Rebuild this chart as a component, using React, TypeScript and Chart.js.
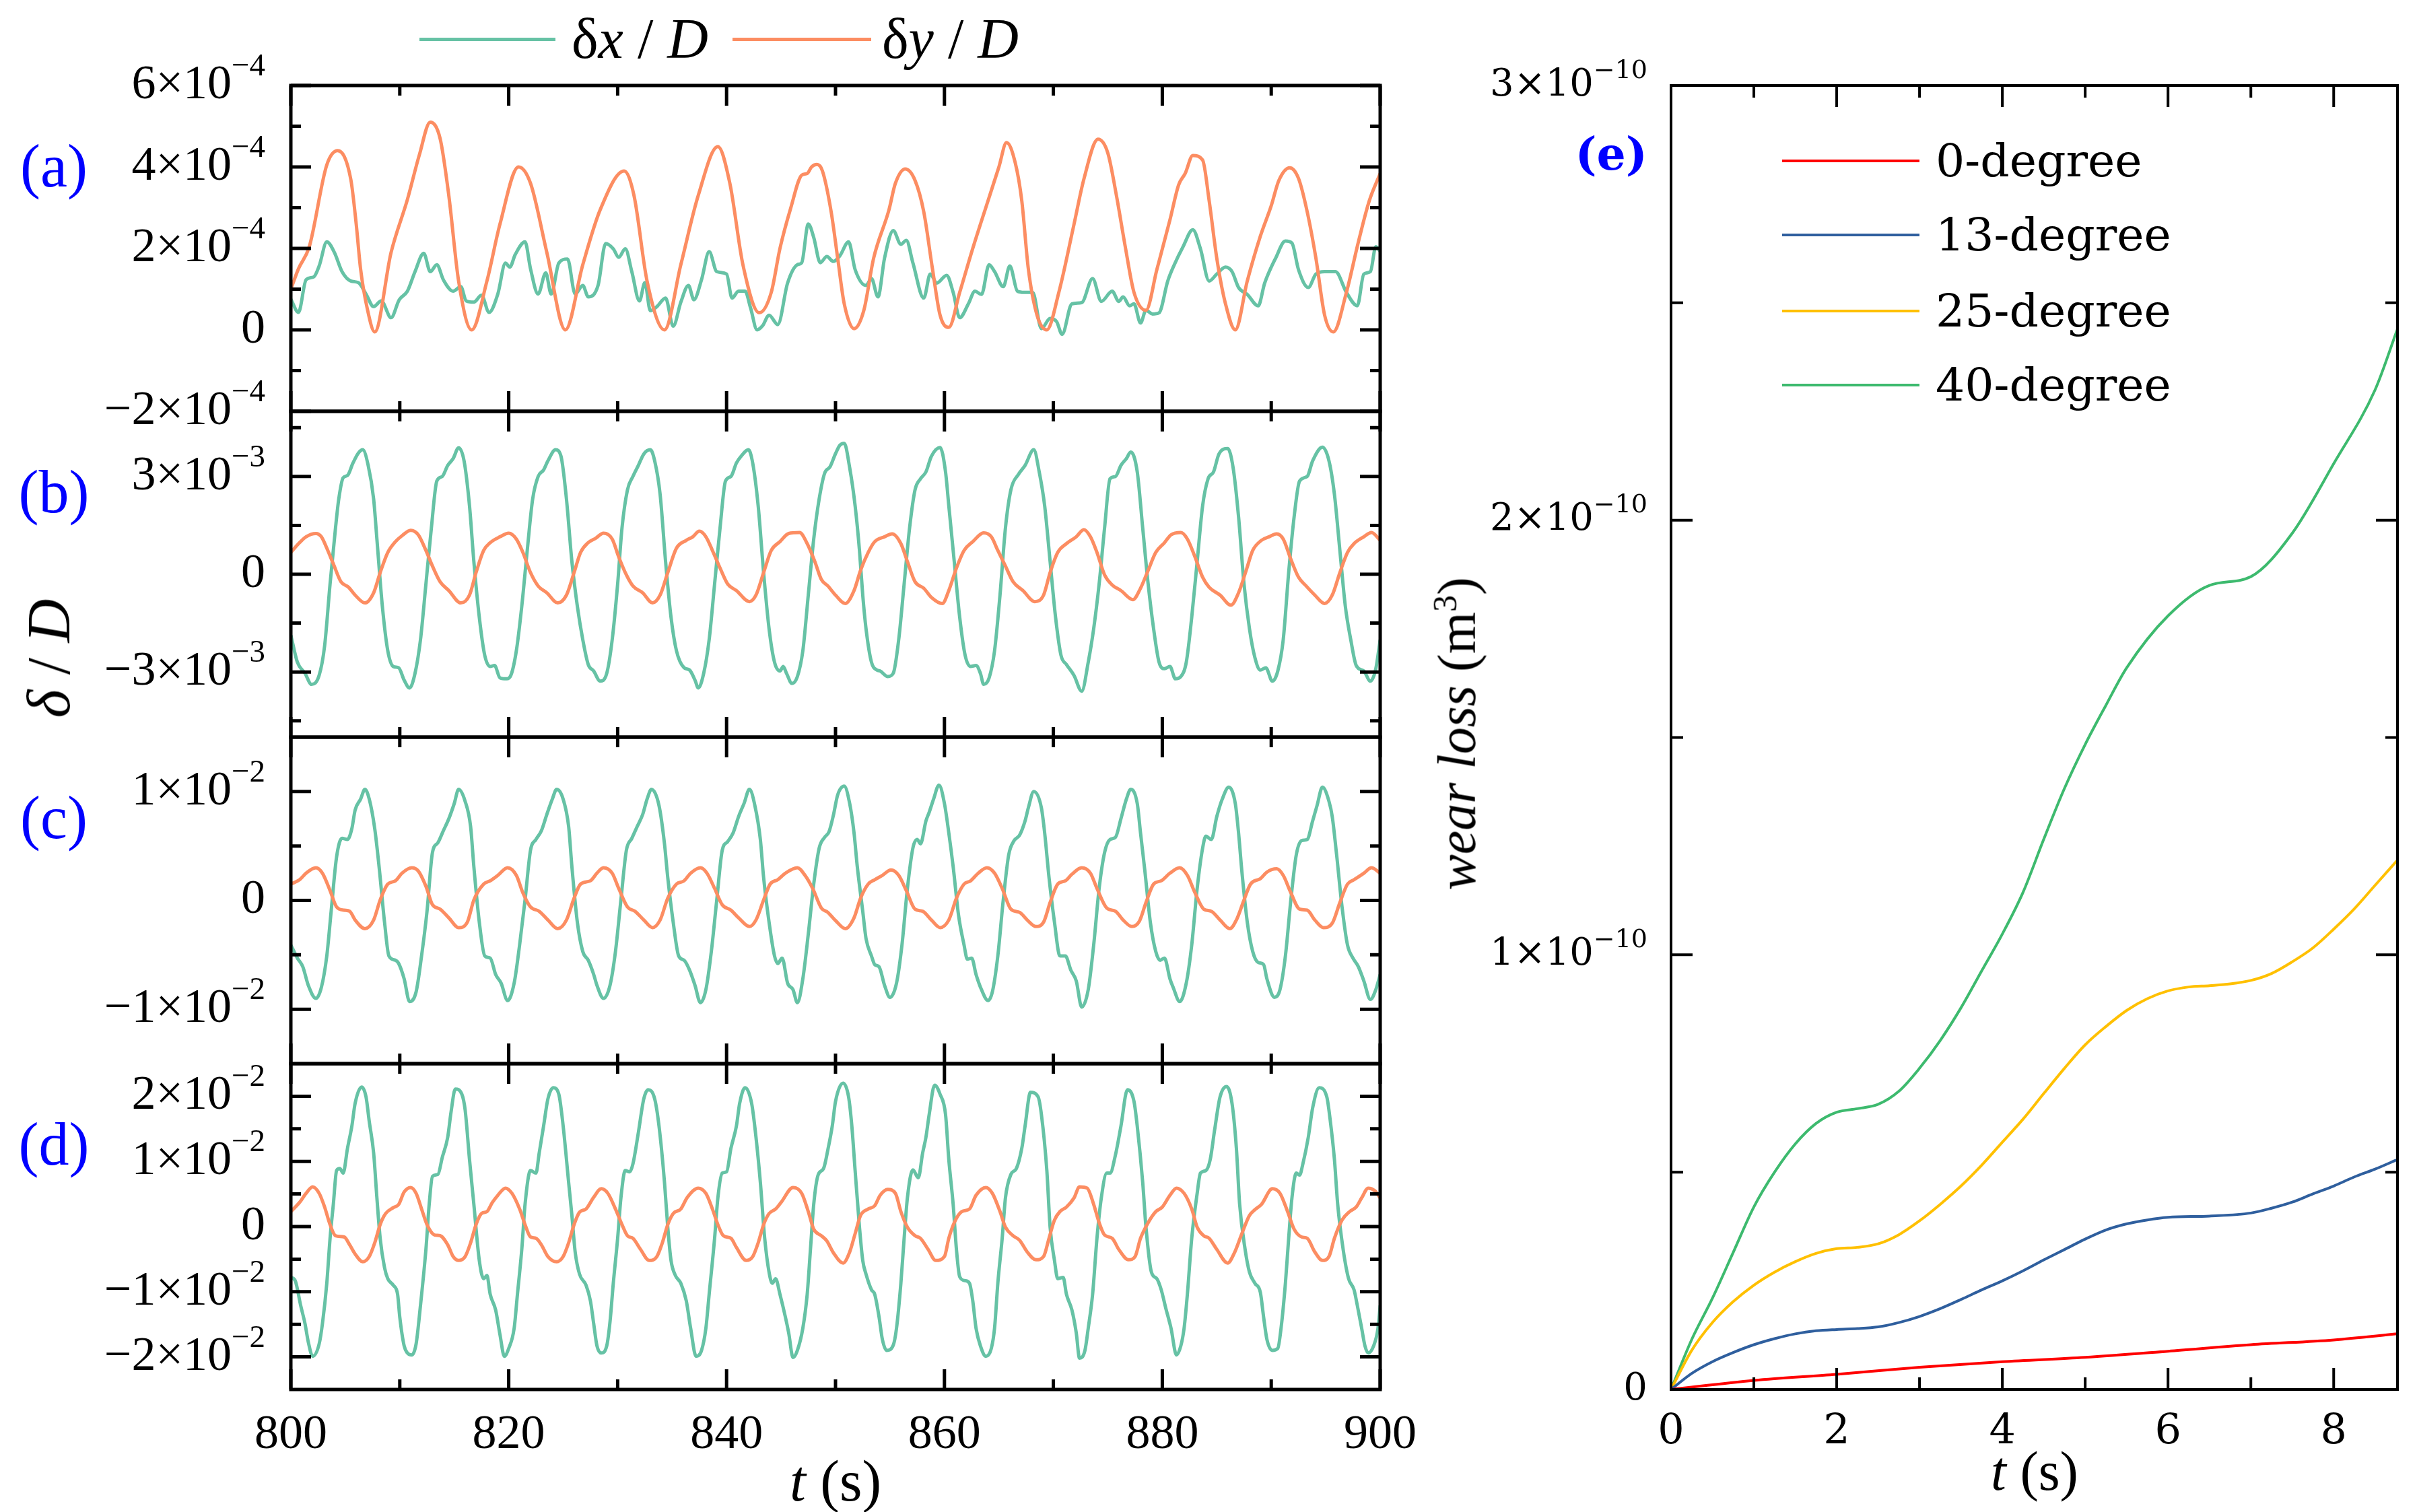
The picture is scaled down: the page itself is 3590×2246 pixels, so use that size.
import { useEffect, useRef } from "react";
import Chart from "chart.js/auto";

// ---------- panels (a)-(d): [t (s), value] ----------
// (a) values in units of 1e-4, (b)-(d) in units of 1e-3
const A_UNIT = 1e-4;
const BCD_UNIT = 1e-3;

const dxA: [number, number][] = [
  [800, 0.75], [800.7, 0.43], [801.4, 1.23], [802.1, 1.3], [802.6, 1.57], [803.3, 2.16], [804.0, 1.9], [804.7, 1.43],
  [805.5, 1.2], [806.2, 1.16], [806.9, 0.88], [807.6, 0.57], [808.3, 0.71], [809.2, 0.3], [809.95, 0.74], [810.7, 0.95],
  [811.4, 1.43], [812.2, 1.88], [812.8, 1.43], [813.4, 1.6], [814.0, 1.23], [814.9, 0.95], [815.6, 1.06], [816.1, 0.71],
  [816.8, 0.68], [817.5, 0.85], [818.2, 0.43], [819.0, 0.88], [819.7, 1.64], [820.1, 1.54], [820.6, 1.85], [821.5, 2.16],
  [822.0, 1.5], [822.7, 0.88], [823.4, 1.4], [823.9, 0.88], [824.6, 1.64], [825.4, 1.74], [826.1, 0.88], [826.8, 1.09],
  [827.3, 0.81], [828.2, 1.09], [828.9, 2.12], [829.6, 1.99], [830.1, 1.78], [830.7, 1.99], [831.3, 1.43], [832.0, 0.71],
  [832.5, 1.16], [833.0, 0.47], [833.6, 0.57], [834.4, 0.78], [835.1, 0.09], [835.8, 0.68], [836.5, 1.09], [837.0, 0.74],
  [837.7, 1.23], [838.4, 1.92], [839.1, 1.43], [840.0, 1.37], [840.5, 0.78], [841.1, 0.95], [841.7, 0.95], [842.2, 0.54],
  [842.8, 0], [843.3, 0.1], [843.9, 0.36], [844.7, 0.13], [845.6, 1.15], [846.5, 1.6], [846.9, 1.65], [847.5, 2.6],
  [848.0, 2.27], [848.6, 1.65], [849.2, 1.8], [849.8, 1.68], [850.4, 1.82], [851.2, 2.16], [851.8, 1.48], [852.8, 1.09],
  [853.3, 1.26], [853.9, 0.81], [854.5, 1.76], [855.3, 2.44], [856.0, 2.1], [856.5, 2.2], [857.1, 1.65], [858.1, 0.78],
  [858.7, 1.37], [859.3, 1.15], [860.2, 1.34], [860.8, 0.92], [861.4, 0.3], [862.2, 0.64], [862.8, 0.95], [863.4, 0.87],
  [864.1, 1.6], [864.6, 1.43], [865.4, 1.06], [866.0, 1.57], [866.7, 0.95], [867.3, 0.92], [868.1, 0.92], [868.9, 0.03],
  [869.7, 0.28], [870.3, 0.2], [870.8, -0.11], [871.7, 0.64], [872.6, 0.67], [873.6, 1.26], [874.4, 0.7], [875.4, 0.95],
  [876.0, 0.7], [876.4, 0.81], [877.0, 0.59], [877.4, 0.64], [878.0, 0.17], [878.5, 0.48], [879.1, 0.39], [879.7, 0.42],
  [880.5, 1.2], [881.1, 1.6], [881.9, 2.04], [882.8, 2.46], [883.5, 1.99], [884.3, 1.2], [885.0, 1.37], [885.8, 1.54],
  [886.4, 1.43], [887.0, 1.04], [887.8, 0.87], [888.8, 0.59], [889.4, 1.15], [890.4, 1.76], [891.3, 2.18], [891.9, 2.13],
  [892.5, 1.48], [893.4, 1.04], [894.1, 1.37], [894.9, 1.43], [895.9, 1.43], [896.9, 0.92], [897.9, 0.59], [898.5, 1.37],
  [899.1, 1.43], [899.6, 2.04], [900, 1.93],
];

const dyA: [number, number][] = [
  [800, 1.0], [800.7, 1.5], [801.7, 2.05], [803.3, 4.05], [804.3, 4.4], [805.5, 3.7], [806.0, 2.6], [806.4, 1.5],
  [807.0, 0.54], [807.7, -0.05], [809.2, 1.9], [810.7, 3.2], [811.8, 4.3], [812.8, 5.1], [813.7, 4.7], [814.5, 3.3],
  [815.4, 1.2], [816.6, 0], [818.0, 1.2], [819.2, 2.6], [820.9, 4.0], [822.0, 3.6], [823.5, 1.9], [825.2, 0],
  [826.8, 1.6], [828.4, 2.95], [830.6, 3.9], [831.5, 3.3], [832.7, 1.2], [834.3, 0], [835.8, 1.6], [837.4, 3.3],
  [839.2, 4.5], [840.3, 3.6], [841.5, 1.6], [843.0, 0.42], [844.1, 0.92], [844.9, 2.0], [845.9, 3.0], [846.9, 3.8],
  [847.4, 3.84], [847.8, 4.0], [848.3, 4.06], [848.8, 3.9], [849.6, 2.9], [850.2, 1.76], [850.8, 0.64], [851.7, 0.03],
  [852.6, 0.48], [853.5, 1.76], [854.9, 2.94], [855.5, 3.6], [856.4, 3.95], [857.3, 3.67], [858.1, 2.9], [858.9, 1.5],
  [859.6, 0.36], [860.4, 0.06], [861.4, 0.92], [862.6, 2.0], [864.0, 3.17], [865.0, 4.0], [865.7, 4.6], [866.5, 4.1],
  [867.1, 3.17], [867.7, 1.5], [868.5, 0.36], [869.4, 0], [870.5, 0.92], [871.9, 2.6], [872.8, 3.7], [874.1, 4.68],
  [875.0, 4.34], [875.8, 3.28], [876.6, 2.04], [877.4, 0.92], [878.5, 0.48], [879.5, 1.48], [880.7, 2.7], [881.5, 3.56],
  [882.1, 3.84], [882.8, 4.28], [883.7, 4.17], [884.3, 3.17], [885.0, 1.76], [885.8, 0.64], [886.7, 0], [887.8, 1.2],
  [889.0, 2.3], [890.0, 3.05], [890.7, 3.67], [891.7, 3.98], [892.5, 3.72], [893.3, 2.9], [894.1, 1.76], [894.9, 0.36],
  [895.7, -0.05], [896.9, 0.92], [898.0, 2.16], [899.0, 3.17], [900, 3.84],
];

const dxB: [number, number][] = [
  [800, -1.87], [800.6, -2.7], [801.3, -3.04], [801.9, -3.38], [802.6, -3.1], [803.1, -2.2], [803.6, -0.3], [804.1, 1.42],
  [804.4, 2.31], [804.8, 2.96], [805.2, 3.03], [805.7, 3.41], [806.2, 3.72], [806.6, 3.82], [807.1, 3.34], [807.6, 2.31],
  [807.9, 1.08], [808.4, -0.98], [808.9, -2.35], [809.4, -2.83], [809.9, -2.87], [810.4, -3.25], [810.9, -3.49], [811.4, -3.04],
  [811.9, -2.01], [812.4, -0.3], [812.9, 1.42], [813.4, 2.86], [813.9, 3.0], [814.4, 3.34], [814.9, 3.55], [815.4, 3.88],
  [815.9, 3.48], [816.4, 2.1], [816.8, 0.39], [817.3, -1.32], [817.8, -2.49], [818.3, -2.83], [818.7, -2.8], [819.2, -3.18],
  [819.8, -3.21], [820.2, -3.1], [820.7, -2.35], [821.2, -0.98], [821.7, 0.73], [822.2, 2.31], [822.7, 3.0], [823.2, 3.2],
  [823.6, 3.48], [824.3, 3.82], [824.8, 3.62], [825.3, 2.31], [825.8, 0.39], [826.3, -0.98], [826.8, -2.01], [827.3, -2.77],
  [827.8, -2.97], [828.4, -3.28], [829.0, -3.04], [829.5, -2.01], [830.0, -0.3], [830.4, 1.42], [830.9, 2.59], [831.4, 3.0],
  [831.9, 3.34], [832.4, 3.69], [833.0, 3.82], [833.4, 3.48], [833.9, 2.45], [834.4, 0.39], [834.9, -1.32], [835.4, -2.35],
  [836.1, -2.87], [836.6, -2.94], [837.1, -3.25], [837.4, -3.49], [837.9, -3.04], [838.4, -2.01], [838.9, -0.3], [839.4, 1.42],
  [839.9, 2.86], [840.4, 3.0], [840.9, 3.41], [841.4, 3.65], [842.0, 3.82], [842.4, 3.41], [842.9, 2.1], [843.4, 0.05],
  [843.9, -1.67], [844.4, -2.7], [844.9, -2.97], [845.2, -2.83], [845.5, -3.04], [846.0, -3.35], [846.5, -3.14], [847.0, -2.35],
  [847.5, -0.64], [848.0, 1.08], [848.5, 2.31], [849.0, 3.1], [849.5, 3.3], [850.0, 3.7], [850.4, 3.96], [850.8, 4.02],
  [851.3, 3.27], [851.8, 2.1], [852.2, 0.73], [852.5, -0.64], [852.8, -1.67], [853.3, -2.7], [853.8, -2.94], [854.1, -2.97],
  [854.8, -3.14], [855.3, -3.04], [855.8, -2.01], [856.3, -0.3], [856.8, 1.42], [857.3, 2.59], [857.8, 2.93], [858.3, 3.14],
  [858.8, 3.62], [859.6, 3.89], [860.1, 3.14], [860.4, 2.1], [860.9, 0.39], [861.4, -1.32], [861.9, -2.49], [862.4, -2.83],
  [862.9, -2.8], [863.3, -3.04], [863.6, -3.38], [864.1, -3.18], [864.6, -2.35], [865.1, -0.64], [865.6, 1.42], [866.1, 2.59],
  [866.8, 3.07], [867.4, 3.34], [868.2, 3.82], [868.7, 3.14], [869.2, 2.1], [869.7, 0.39], [870.2, -1.32], [870.7, -2.49],
  [871.2, -2.77], [871.9, -3.11], [872.6, -3.59], [873.2, -2.7], [873.7, -1.67], [874.2, -0.3], [874.7, 1.42], [875.2, 2.93],
  [875.7, 3.0], [876.2, 3.34], [876.7, 3.55], [877.1, 3.75], [877.7, 3.14], [878.2, 1.42], [878.7, -0.3], [879.2, -1.67],
  [879.7, -2.7], [880.2, -2.9], [880.7, -2.83], [881.2, -3.21], [881.7, -3.14], [882.2, -2.7], [882.7, -1.32], [883.2, 0.39],
  [883.7, 2.1], [884.2, 2.93], [884.7, 3.14], [885.2, 3.69], [886.0, 3.86], [886.5, 3.27], [887.0, 1.76], [887.5, -0.3],
  [888.0, -1.67], [888.5, -2.56], [889.0, -2.94], [889.5, -2.87], [890.1, -3.28], [890.6, -2.97], [891.1, -2.01], [891.6, 0.05],
  [892.1, 1.76], [892.6, 2.86], [893.3, 3.0], [893.8, 3.48], [894.7, 3.9], [895.3, 3.48], [895.8, 2.45], [896.3, 0.73],
  [896.8, -0.98], [897.3, -2.01], [897.8, -2.8], [898.5, -2.97], [899.1, -3.28], [899.6, -2.9], [900, -2.01],
];

const dyB: [number, number][] = [
  [800, 0.67], [800.8, 0.97], [801.4, 1.15], [802.3, 1.25], [802.8, 1.15], [803.3, 0.8], [803.9, 0.32], [804.6, -0.23],
  [805.3, -0.4], [805.9, -0.64], [806.8, -0.88], [807.6, -0.57], [808.2, 0.05], [808.9, 0.67], [809.6, 1.0], [810.2, 1.18],
  [811.0, 1.35], [811.7, 1.21], [812.4, 0.73], [813.0, 0.25], [813.7, -0.23], [814.5, -0.5], [815.6, -0.88], [816.4, -0.64],
  [817.0, 0.05], [817.7, 0.73], [818.3, 0.97], [819.2, 1.15], [820.0, 1.26], [820.7, 1.08], [821.3, 0.67], [822.0, 0.05],
  [822.7, -0.36], [823.5, -0.57], [824.5, -0.88], [825.3, -0.64], [826.0, 0.05], [826.6, 0.67], [827.3, 0.97], [828.0, 1.11],
  [828.7, 1.26], [829.5, 1.08], [830.1, 0.53], [830.8, -0.02], [831.4, -0.36], [832.3, -0.57], [833.2, -0.88], [833.9, -0.64],
  [834.6, 0.05], [835.4, 0.8], [836.3, 1.04], [836.9, 1.15], [837.5, 1.32], [838.1, 1.15], [838.7, 0.73], [839.4, 0.19],
  [840.1, -0.3], [840.9, -0.5], [842.1, -0.84], [842.7, -0.64], [843.4, 0.05], [844.1, 0.73], [844.9, 1.0], [845.7, 1.25],
  [846.7, 1.28], [847.4, 0.94], [848.1, 0.39], [848.7, -0.16], [849.3, -0.36], [850.0, -0.64], [850.9, -0.9], [851.7, -0.5],
  [852.3, 0.12], [853.0, 0.67], [853.6, 1.0], [854.5, 1.15], [855.2, 1.24], [856.0, 0.94], [856.6, 0.39], [857.3, -0.23],
  [858.1, -0.43], [858.8, -0.71], [859.8, -0.9], [860.4, -0.5], [861.1, 0.19], [861.8, 0.73], [862.6, 1.0], [863.6, 1.27],
  [864.3, 1.15], [864.9, 0.73], [865.6, 0.25], [866.3, -0.23], [867.2, -0.5], [868.3, -0.84], [869.1, -0.64], [869.7, 0.05],
  [870.4, 0.67], [871.2, 0.94], [872.1, 1.15], [872.8, 1.37], [873.4, 1.15], [874.0, 0.67], [874.7, -0.02], [875.4, -0.33],
  [876.2, -0.5], [877.3, -0.78], [878.0, -0.43], [878.7, 0.12], [879.4, 0.67], [880.2, 0.97], [880.8, 1.21], [881.7, 1.28],
  [882.3, 1.08], [883.0, 0.53], [883.7, -0.09], [884.3, -0.4], [885.3, -0.64], [886.3, -0.95], [887.0, -0.57], [887.7, 0.12],
  [888.3, 0.73], [889.1, 1.04], [889.8, 1.15], [890.5, 1.24], [891.1, 1.08], [891.8, 0.46], [892.5, -0.09], [893.2, -0.36],
  [894.0, -0.64], [894.9, -0.9], [895.6, -0.64], [896.3, 0.05], [897.0, 0.67], [897.6, 0.94], [898.5, 1.15], [899.2, 1.28],
  [900, 1.04],
];

const dxC: [number, number][] = [
  [800, -4.1], [800.6, -5.3], [801.1, -6.1], [801.6, -7.8], [802.3, -9.0], [802.8, -8.0], [803.3, -5.1], [803.7, -1.0],
  [804.2, 4.0], [804.7, 5.7], [805.2, 5.6], [805.6, 6.6], [805.9, 8.3], [806.4, 9.3], [806.8, 10.2], [807.2, 9.3],
  [807.7, 6.6], [808.1, 3.1], [808.6, -2.0], [809.0, -5.1], [809.6, -5.5], [809.9, -5.8], [810.4, -7.2], [810.9, -9.3],
  [811.5, -8.4], [812.0, -5.1], [812.5, -1.0], [813.0, 4.4], [813.5, 5.3], [814.0, 6.4], [814.5, 7.5], [815.0, 8.9],
  [815.4, 10.2], [816.0, 9.1], [816.5, 6.8], [816.8, 3.1], [817.3, -2.0], [817.8, -5.1], [818.3, -5.3], [818.8, -6.8],
  [819.3, -7.6], [819.9, -9.2], [820.5, -7.6], [821.0, -4.1], [821.5, 0.04], [822.0, 4.6], [822.5, 5.6], [823.0, 6.4],
  [823.5, 7.9], [824.0, 9.3], [824.4, 10.2], [825.0, 9.3], [825.5, 6.8], [825.8, 3.1], [826.3, -2.0], [826.8, -4.7],
  [827.3, -5.5], [827.8, -6.8], [828.1, -7.8], [828.7, -9.0], [829.3, -7.8], [829.8, -4.7], [830.3, 0.04], [830.8, 4.6],
  [831.3, 5.7], [831.8, 6.8], [832.3, 7.9], [832.7, 9.3], [833.1, 10.2], [833.8, 8.7], [834.3, 5.2], [834.6, 2.1],
  [835.1, -2.0], [835.6, -5.1], [836.1, -5.5], [836.6, -6.4], [837.1, -7.8], [837.6, -9.4], [838.1, -8.2], [838.6, -4.7],
  [839.1, 0.04], [839.6, 4.6], [840.1, 5.4], [840.6, 6.2], [841.1, 7.7], [841.6, 8.9], [842.1, 10.2], [842.6, 8.7],
  [843.1, 5.6], [843.4, 2.1], [843.9, -2.0], [844.4, -5.1], [844.7, -5.8], [845.1, -5.3], [845.6, -7.6], [846.1, -8.2],
  [846.5, -9.4], [847.0, -7.2], [847.5, -3.1], [848.0, 1.5], [848.5, 4.8], [849.0, 5.8], [849.4, 6.3], [849.8, 7.8],
  [850.2, 9.7], [850.8, 10.5], [851.3, 8.9], [851.7, 6.2], [852.0, 3.1], [852.5, -1.0], [852.8, -3.5], [853.3, -5.1],
  [853.6, -5.9], [854.0, -6.1], [854.5, -7.8], [855.0, -8.9], [855.6, -7.6], [856.1, -4.1], [856.6, 1.1], [857.1, 4.8],
  [857.5, 5.6], [857.8, 5.2], [858.3, 7.3], [858.6, 8.1], [859.0, 9.3], [859.5, 10.6], [860.0, 8.9], [860.4, 6.2],
  [860.8, 3.1], [861.3, -1.4], [861.8, -4.1], [862.1, -5.4], [862.5, -5.3], [862.9, -6.8], [863.4, -8.2], [864.0, -9.2],
  [864.4, -8.4], [864.9, -5.1], [865.4, 0.04], [865.9, 4.2], [866.4, 5.5], [866.9, 6.0], [867.4, 7.3], [867.7, 8.5],
  [868.2, 10.0], [868.9, 8.5], [869.2, 6.2], [869.6, 2.1], [870.1, -2.0], [870.6, -5.1], [871.1, -5.1], [871.6, -6.4],
  [872.1, -7.4], [872.6, -9.8], [873.2, -8.2], [873.7, -4.1], [874.2, 1.1], [874.7, 4.4], [875.2, 5.6], [875.7, 5.8],
  [876.2, 7.5], [876.7, 9.3], [877.1, 10.2], [877.7, 8.9], [878.0, 6.2], [878.4, 2.7], [878.9, -2.0], [879.4, -4.7],
  [879.8, -5.5], [880.2, -5.3], [880.7, -7.2], [881.0, -8.0], [881.6, -9.3], [882.2, -7.6], [882.7, -4.1], [883.2, 1.1],
  [883.7, 4.8], [884.0, 5.9], [884.5, 5.6], [885.0, 7.7], [885.5, 9.3], [886.1, 10.4], [886.7, 8.9], [887.0, 6.2],
  [887.3, 2.7], [887.8, -2.0], [888.3, -4.7], [888.8, -5.7], [889.3, -5.9], [889.6, -7.2], [890.3, -8.9], [890.8, -8.2],
  [891.3, -5.1], [891.8, 0.04], [892.3, 4.2], [892.8, 5.5], [893.3, 5.6], [893.8, 7.3], [894.2, 8.7], [894.7, 10.4],
  [895.3, 9.1], [895.6, 7.7], [896.0, 4.2], [896.5, -0.6], [897.0, -4.1], [897.5, -5.3], [898.0, -6.1], [898.5, -7.4],
  [899.1, -9.1], [899.6, -8.2], [900, -6.8],
];

const dyC: [number, number][] = [
  [800, 1.5], [800.8, 1.9], [801.4, 2.5], [802.3, 3.0], [802.9, 2.5], [803.6, 0.9], [804.2, -0.6], [804.9, -0.9],
  [805.4, -1.0], [805.9, -1.8], [806.8, -2.6], [807.6, -1.8], [808.2, 0.04], [808.9, 1.5], [809.6, 1.8], [810.2, 2.5],
  [811.1, 3.0], [811.7, 2.7], [812.4, 1.3], [813.0, -0.4], [813.7, -0.8], [814.5, -1.6], [815.4, -2.5], [816.2, -2.0],
  [816.8, 0.04], [817.7, 1.5], [818.3, 1.8], [819.0, 2.3], [819.9, 3.0], [820.7, 2.3], [821.3, 0.7], [822.0, -0.6],
  [822.8, -1.0], [823.6, -1.8], [824.5, -2.6], [825.3, -1.8], [826.0, 0.2], [826.6, 1.5], [827.5, 1.8], [828.1, 2.5],
  [828.7, 3.0], [829.5, 2.5], [830.1, 1.1], [830.9, -0.6], [831.6, -1.0], [832.4, -1.8], [833.2, -2.5], [833.9, -1.8],
  [834.6, 0.2], [835.4, 1.5], [836.1, 1.8], [836.7, 2.5], [837.6, 3.0], [838.2, 2.5], [838.9, 1.1], [839.6, -0.4],
  [840.4, -0.9], [841.1, -1.6], [842.1, -2.4], [842.7, -1.8], [843.4, 0.04], [844.0, 1.5], [844.7, 1.9], [845.4, 2.5],
  [846.5, 3.0], [847.2, 2.3], [847.9, 1.1], [848.7, -0.7], [849.3, -1.1], [850.0, -1.85], [850.9, -2.6], [851.7, -1.6],
  [852.3, 0.2], [853.0, 1.5], [853.6, 1.9], [854.3, 2.3], [855.1, 2.8], [855.8, 2.3], [856.5, 0.9], [857.3, -0.8],
  [858.0, -1.0], [858.8, -1.8], [859.6, -2.5], [860.4, -1.8], [861.1, 0.2], [861.8, 1.5], [862.4, 1.8], [863.1, 2.5],
  [863.9, 3.0], [864.6, 2.5], [865.3, 1.1], [866.1, -0.8], [866.9, -1.1], [867.6, -1.8], [868.4, -2.4], [869.1, -2.0],
  [869.7, -0.2], [870.4, 1.5], [871.1, 1.8], [871.7, 2.4], [872.6, 3.0], [873.4, 2.5], [874.0, 1.1], [874.9, -0.7],
  [875.7, -1.0], [876.4, -1.8], [877.2, -2.4], [877.9, -1.9], [878.5, -0.2], [879.2, 1.5], [879.9, 1.8], [880.7, 2.5],
  [881.6, 3.0], [882.3, 2.3], [883.0, 0.7], [883.8, -0.8], [884.5, -1.0], [885.3, -1.8], [886.2, -2.6], [886.8, -1.8],
  [887.5, 0.04], [888.1, 1.5], [889.0, 2.0], [889.6, 2.6], [890.5, 2.9], [891.1, 2.3], [891.8, 0.7], [892.6, -0.8],
  [893.3, -0.9], [894.0, -1.8], [894.8, -2.5], [895.6, -2.1], [896.3, -0.2], [897.0, 1.5], [897.6, 1.9], [898.5, 2.5],
  [899.2, 3.0], [900, 2.5],
];

const dxD: [number, number][] = [
  [800, -7.8], [800.4, -8.3], [800.9, -12.1], [801.3, -14.9], [801.6, -17.7], [802.0, -19.9], [802.6, -18.0], [802.9, -14.9],
  [803.3, -8.7], [803.6, -1.8], [803.9, 3.4], [804.2, 8.6], [804.5, 8.9], [804.8, 8.2], [805.2, 12.0], [805.6, 15.4],
  [805.9, 18.9], [806.5, 21.4], [806.9, 19.9], [807.2, 16.1], [807.6, 11.3], [807.9, 4.4], [808.2, -1.8], [808.6, -6.3],
  [808.9, -8.0], [809.4, -9.0], [809.8, -10.4], [810.0, -13.9], [810.4, -18.3], [810.7, -19.4], [811.1, -19.7], [811.5, -18.0],
  [811.9, -12.1], [812.4, -3.5], [812.7, 3.4], [813.0, 7.7], [813.5, 8.0], [813.9, 10.6], [814.4, 13.7], [814.7, 17.5],
  [815.1, 21.1], [815.7, 20.3], [816.0, 17.9], [816.4, 10.3], [816.8, 3.4], [817.3, -5.2], [817.7, -8.0], [818.0, -7.5],
  [818.3, -10.4], [818.8, -12.8], [819.2, -16.6], [819.6, -19.9], [820.0, -18.7], [820.5, -15.6], [820.8, -10.4], [821.2, -3.5],
  [821.5, 3.4], [822.0, 8.6], [822.5, 8.2], [822.8, 11.3], [823.2, 15.4], [823.6, 19.6], [824.1, 21.3], [824.6, 20.3],
  [825.0, 15.4], [825.5, 6.8], [825.8, 1.7], [826.1, -3.9], [826.5, -7.3], [827.1, -9.0], [827.5, -11.4], [827.8, -14.9],
  [828.1, -18.3], [828.5, -19.4], [829.0, -18.3], [829.3, -14.6], [829.6, -8.7], [830.0, -1.8], [830.3, 4.4], [830.7, 8.6],
  [831.1, 8.4], [831.4, 9.6], [831.9, 14.4], [832.4, 19.6], [832.8, 21.0], [833.4, 19.6], [833.8, 15.4], [834.3, 6.8],
  [834.6, -0.1], [834.9, -5.2], [835.3, -7.5], [835.8, -8.7], [836.3, -11.4], [836.7, -15.6], [837.2, -19.9], [837.7, -19.0],
  [838.1, -15.6], [838.4, -10.4], [838.9, -1.8], [839.2, 4.4], [839.6, 8.2], [840.0, 8.4], [840.4, 12.0], [840.9, 15.4],
  [841.2, 18.9], [841.7, 21.3], [842.3, 18.9], [842.7, 13.7], [843.1, 6.8], [843.5, -1.8], [843.9, -7.0], [844.2, -8.7],
  [844.5, -8.0], [844.9, -10.4], [845.4, -13.9], [845.7, -16.3], [846.1, -20.1], [846.5, -19.0], [847.0, -15.6], [847.4, -10.4],
  [847.7, -3.5], [848.0, 3.4], [848.4, 7.9], [848.9, 8.9], [849.3, 11.8], [849.7, 15.4], [850.0, 19.2], [850.7, 22.0],
  [851.2, 19.9], [851.5, 15.4], [851.8, 8.6], [852.2, -0.1], [852.5, -5.2], [852.8, -7.3], [853.3, -9.7], [853.6, -10.4],
  [854.0, -13.9], [854.3, -17.3], [854.7, -19.0], [855.3, -18.2], [855.6, -15.6], [856.0, -8.7], [856.3, -1.8], [856.6, 4.4],
  [857.1, 8.7], [857.6, 7.5], [858.0, 11.3], [858.3, 13.7], [858.6, 17.2], [859.1, 21.7], [859.6, 20.3], [860.1, 17.2],
  [860.4, 10.3], [860.8, 3.4], [861.1, -3.5], [861.4, -7.7], [861.9, -8.3], [862.3, -8.7], [862.6, -11.4], [862.9, -15.6],
  [863.3, -18.3], [863.8, -19.9], [864.3, -18.7], [864.6, -15.6], [864.9, -8.7], [865.3, -1.8], [865.6, 4.4], [866.1, 8.0],
  [866.6, 8.9], [867.1, 12.0], [867.4, 15.4], [867.9, 20.6], [868.6, 19.9], [868.9, 17.2], [869.4, 8.6], [869.7, -0.1],
  [870.1, -5.2], [870.4, -8.0], [870.9, -7.8], [871.2, -10.4], [871.7, -12.8], [872.1, -16.3], [872.4, -20.2], [872.9, -19.0],
  [873.2, -15.6], [873.6, -10.4], [874.0, -1.8], [874.4, 4.4], [874.9, 8.2], [875.2, 8.2], [875.7, 11.0], [876.2, 15.4],
  [876.8, 21.0], [877.4, 19.2], [877.7, 15.4], [878.2, 6.8], [878.5, -0.1], [879.0, -7.0], [879.5, -8.0], [879.9, -9.7],
  [880.3, -12.4], [880.8, -15.6], [881.3, -19.7], [881.7, -18.3], [882.0, -15.6], [882.3, -10.4], [882.7, -1.8], [883.2, 5.1],
  [883.5, 8.2], [884.0, 8.6], [884.4, 10.3], [884.8, 14.8], [885.3, 19.9], [885.9, 21.5], [886.4, 18.9], [886.8, 12.0],
  [887.1, 3.4], [887.6, -3.5], [888.0, -7.0], [888.5, -8.7], [889.0, -10.1], [889.3, -13.9], [889.6, -17.3], [890.1, -19.0],
  [890.6, -18.7], [890.9, -15.6], [891.3, -8.7], [891.6, -1.8], [891.9, 4.4], [892.3, 8.2], [892.6, 7.9], [892.9, 9.6],
  [893.4, 13.7], [893.8, 18.2], [894.4, 21.3], [895.1, 19.9], [895.4, 16.5], [895.8, 10.3], [896.1, 3.4], [896.6, -3.5],
  [897.1, -8.0], [897.6, -9.7], [897.9, -12.1], [898.3, -15.6], [898.6, -18.3], [898.9, -19.4], [899.4, -18.3], [899.8, -15.6],
  [900, -12.1],
];

const dyD: [number, number][] = [
  [800, 2.3], [800.8, 3.7], [801.4, 5.1], [802.0, 6.1], [802.6, 5.1], [803.1, 3.0], [803.6, 0.3], [804.1, -1.4],
  [804.9, -1.6], [805.4, -2.8], [805.9, -4.2], [806.6, -5.4], [807.2, -4.6], [807.7, -2.5], [808.2, 0.3], [808.7, 2.0],
  [809.4, 2.9], [809.9, 3.4], [810.4, 5.3], [811.0, 6.0], [811.5, 5.1], [812.0, 2.7], [812.5, 0.3], [813.2, -1.3],
  [813.7, -1.4], [814.4, -2.8], [814.9, -4.6], [815.4, -5.2], [816.0, -4.6], [816.5, -2.5], [817.0, 0.3], [817.5, 2.0],
  [818.0, 2.3], [818.5, 3.7], [819.0, 4.8], [819.7, 5.9], [820.3, 5.1], [821.0, 2.7], [821.5, 0.3], [822.0, -1.6],
  [822.5, -1.8], [823.0, -2.8], [823.6, -4.6], [824.4, -5.4], [825.0, -4.6], [825.5, -2.5], [826.0, 0.3], [826.5, 2.2],
  [827.1, 2.7], [827.8, 4.5], [828.5, 5.8], [829.1, 5.1], [829.8, 2.7], [830.4, 0.3], [830.9, -1.4], [831.4, -1.8],
  [832.1, -3.5], [832.9, -5.2], [833.6, -4.6], [834.1, -2.5], [834.6, 0.3], [835.1, 2.0], [835.8, 2.7], [836.4, 4.5],
  [837.4, 5.9], [838.1, 5.1], [838.7, 2.7], [839.2, 0.3], [839.7, -1.4], [840.4, -1.8], [840.9, -3.2], [841.8, -5.2],
  [842.4, -4.6], [842.9, -2.5], [843.4, 0.3], [843.9, 2.0], [844.5, 2.7], [845.0, 3.7], [846.1, 6.0], [846.9, 5.1],
  [847.5, 2.3], [848.0, -0.4], [848.7, -1.4], [849.2, -2.2], [849.8, -4.0], [850.7, -5.6], [851.3, -3.9], [851.8, -1.1],
  [852.3, 1.7], [853.0, 2.7], [853.6, 3.2], [854.1, 4.8], [854.8, 5.7], [855.5, 5.1], [856.0, 2.3], [856.6, -0.1],
  [857.3, -1.4], [857.8, -1.8], [858.5, -3.5], [859.2, -5.2], [860.0, -4.6], [860.4, -1.8], [860.9, 0.6], [861.6, 2.3],
  [862.3, 2.7], [862.9, 4.8], [863.8, 6.0], [864.4, 5.1], [865.1, 2.3], [865.6, -0.1], [866.3, -1.4], [866.9, -2.1],
  [867.6, -3.9], [868.4, -5.1], [869.1, -4.6], [869.6, -1.8], [870.1, 1.0], [870.6, 2.3], [871.2, 3.0], [871.9, 4.4],
  [872.4, 6.1], [873.1, 5.9], [873.7, 3.4], [874.2, 0.6], [874.7, -1.3], [875.4, -1.8], [876.0, -3.5], [876.9, -5.1],
  [877.5, -4.6], [878.0, -1.8], [878.7, 0.6], [879.4, 2.3], [880.0, 3.0], [880.7, 4.8], [881.3, 5.9], [882.0, 5.1],
  [882.7, 2.7], [883.2, -0.1], [883.8, -1.4], [884.3, -1.8], [885.0, -3.5], [886.0, -5.6], [886.6, -4.1], [887.3, -1.1],
  [888.0, 1.7], [888.5, 2.6], [889.1, 3.4], [890.1, 5.8], [890.8, 5.1], [891.5, 2.3], [892.1, -0.4], [892.8, -1.6],
  [893.3, -1.8], [894.0, -3.9], [894.7, -5.2], [895.3, -4.6], [895.8, -1.8], [896.5, 1.0], [897.2, 2.3], [897.8, 3.0],
  [898.3, 4.4], [898.9, 5.9], [899.5, 5.5], [900, 4.4],
];

// axis ticks and labels, panels (a)-(d)
const tMajor = [800, 820, 840, 860, 880, 900];
const tMinor = [810, 830, 850, 870, 890];
const tLabels = ["800", "820", "840", "860", "880", "900"];

const aMajor = [-2e-4, 0, 2e-4, 4e-4, 6e-4];
const aMinor = [-1e-4, 1e-4, 3e-4, 5e-4];
const aLabels = ["−2×10^−4", "0", "2×10^−4", "4×10^−4", "6×10^−4"];
const bMajor = [-3e-3, 0, 3e-3];
const bMinor = [-4.5e-3, -1.5e-3, 1.5e-3, 4.5e-3];
const bLabels = ["−3×10^−3", "0", "3×10^−3"];
const cMajor = [-1e-2, 0, 1e-2];
const cMinor = [-5e-3, 5e-3];
const cLabels = ["−1×10^−2", "0", "1×10^−2"];
const dMajor = [-2e-2, -1e-2, 0, 1e-2, 2e-2];
const dMinor = [-1.5e-2, -5e-3, 5e-3, 1.5e-2];
const dLabels = ["−2×10^−2", "−1×10^−2", "0", "1×10^−2", "2×10^−2"];

// ---------- panel (e): wear loss, [t (s), value in 1e-10 m^3] ----------
const E_UNIT = 1e-10;
const wear0: [number, number][] = [
  [0, 0], [1, 0.021], [2, 0.035], [3, 0.051], [4, 0.064], [5, 0.074], [6, 0.088], [7, 0.103], [8, 0.114], [8.77, 0.128],
];
const wear13: [number, number][] = [
  [0, 0], [0.25, 0.037], [0.5, 0.064], [0.75, 0.085], [1, 0.103], [1.25, 0.117], [1.5, 0.128], [1.75, 0.135], [2, 0.138],
  [2.25, 0.14], [2.5, 0.144], [2.75, 0.154], [3, 0.168], [3.25, 0.186], [3.5, 0.207], [3.75, 0.229], [4, 0.25],
  [4.25, 0.273], [4.5, 0.298], [4.75, 0.322], [5, 0.346], [5.25, 0.367], [5.5, 0.381], [5.75, 0.39], [6, 0.396],
  [6.5, 0.399], [7, 0.406], [7.25, 0.417], [7.5, 0.431], [7.75, 0.45], [8, 0.468], [8.25, 0.489], [8.5, 0.507], [8.77, 0.529],
];
const wear25: [number, number][] = [
  [0, 0], [0.25, 0.09], [0.5, 0.154], [0.75, 0.202], [1, 0.24], [1.25, 0.27], [1.5, 0.294], [1.75, 0.313], [2, 0.324],
  [2.25, 0.327], [2.5, 0.335], [2.75, 0.356], [3, 0.388], [3.25, 0.426], [3.5, 0.468], [3.75, 0.516], [4, 0.569],
  [4.25, 0.622], [4.5, 0.681], [4.75, 0.739], [5, 0.793], [5.25, 0.835], [5.5, 0.872], [5.75, 0.899], [6, 0.917],
  [6.25, 0.926], [6.5, 0.929], [6.75, 0.933], [7, 0.941], [7.25, 0.957], [7.5, 0.984], [7.75, 1.016], [8, 1.059],
  [8.25, 1.106], [8.5, 1.16], [8.77, 1.218],
];
const wear40: [number, number][] = [
  [0, 0], [0.25, 0.115], [0.5, 0.21], [0.75, 0.315], [1, 0.42], [1.25, 0.5], [1.5, 0.565], [1.75, 0.612], [2, 0.638],
  [2.25, 0.646], [2.5, 0.656], [2.75, 0.686], [3, 0.739], [3.25, 0.803], [3.5, 0.878], [3.75, 0.963], [4, 1.048],
  [4.25, 1.144], [4.5, 1.266], [4.75, 1.383], [5, 1.484], [5.25, 1.574], [5.5, 1.66], [6, 1.78], [6.5, 1.85], [7, 1.87],
  [7.5, 1.97], [8, 2.13], [8.5, 2.3], [8.77, 2.44],
];

const eXMajor = [0, 2, 4, 6, 8];
const eXMinor = [1, 3, 5, 7];
const eXLabels = ["0", "2", "4", "6", "8"];
const eYMajor = [0, 1e-10, 2e-10, 3e-10];
const eYMinor = [0.5e-10, 1.5e-10, 2.5e-10];
const eYLabels = ["0", "1×10^−10", "2×10^−10", "3×10^−10"];
const eSeries = ["0-degree", "13-degree", "25-degree", "40-degree"];
const eLegendY = [239, 349, 462, 572];

const GREEN = "#66c2a5";
const ORANGE = "#fc8d62";
const E_COLORS = ["#ff0000", "#2f5f9e", "#ffc000", "#3dba6e"];
const SERIF = '"Liberation Serif", "Times New Roman", serif';
const WIDE = '"DejaVu Serif", serif';

type FrameOpts = {
  xMajor: number[]; xMinor: number[]; xLabels?: string[];
  yMajor: number[]; yMinor: number[]; yLabels: string[];
  family: string; size: number; supSize: number; xSize: number;
  majorLen: number; minorLen: number; lineWidth: number;
  yGap: number; xGap: number;
};

// text like "2×10^−4": the part after ^ is drawn as a superscript
function drawSup(ctx: CanvasRenderingContext2D, text: string, x: number, y: number, align: string, size: number, supSize: number, family: string) {
  const [main, sup] = text.split("^");
  ctx.font = `${size}px ${family}`;
  const wMain = ctx.measureText(main).width;
  ctx.font = `${supSize}px ${family}`;
  const wSup = sup ? ctx.measureText(sup).width : 0;
  const left = align === "right" ? x - wMain - wSup : x - (wMain + wSup) / 2;
  ctx.textAlign = "left";
  ctx.textBaseline = "middle";
  ctx.font = `${size}px ${family}`;
  ctx.fillText(main, left, y);
  if (sup) {
    ctx.font = `${supSize}px ${family}`;
    ctx.fillText(sup, left + wMain, y - size * 0.38);
  }
}

const framePlugin = {
  id: "frame",
  afterDraw(chart: any, _args: any, o: FrameOpts) {
    const { ctx, chartArea: a } = chart;
    const xs = chart.scales.x;
    const ys = chart.scales.y;
    ctx.save();
    ctx.strokeStyle = "#000";
    ctx.fillStyle = "#000";
    ctx.lineWidth = o.lineWidth;
    ctx.lineCap = "butt";
    ctx.beginPath();
    const xTick = (v: number, len: number) => {
      const px = xs.getPixelForValue(v);
      ctx.moveTo(px, a.bottom);
      ctx.lineTo(px, a.bottom - len);
      ctx.moveTo(px, a.top);
      ctx.lineTo(px, a.top + len);
    };
    const yTick = (v: number, len: number) => {
      const py = ys.getPixelForValue(v);
      ctx.moveTo(a.left, py);
      ctx.lineTo(a.left + len, py);
      ctx.moveTo(a.right, py);
      ctx.lineTo(a.right - len, py);
    };
    o.xMajor.forEach((v) => xTick(v, o.majorLen));
    o.xMinor.forEach((v) => xTick(v, o.minorLen));
    o.yMajor.forEach((v) => yTick(v, o.majorLen));
    o.yMinor.forEach((v) => yTick(v, o.minorLen));
    ctx.stroke();
    ctx.strokeRect(a.left, a.top, a.right - a.left, a.bottom - a.top);
    o.yMajor.forEach((v, i) =>
      drawSup(ctx, o.yLabels[i], a.left - o.yGap, ys.getPixelForValue(v), "right", o.size, o.supSize, o.family)
    );
    if (o.xLabels) {
      o.xMajor.forEach((v, i) =>
        drawSup(ctx, o.xLabels![i], xs.getPixelForValue(v), a.bottom + o.xGap, "center", o.xSize, o.supSize, o.family)
      );
    }
    ctx.restore();
  },
};

const pairs = (arr: [number, number][], unit: number) => arr.map(([t, v]) => ({ x: t, y: v * unit }));

function baseOptions(pad: any, xMin: number, xMax: number, yMin: number, yMax: number, frame: FrameOpts): any {
  return {
    responsive: false,
    animation: false,
    events: [],
    layout: { padding: pad },
    elements: { point: { radius: 0 }, line: { cubicInterpolationMode: "monotone" } },
    scales: {
      x: { type: "linear", min: xMin, max: xMax, display: false },
      y: { type: "linear", min: yMin, max: yMax, display: false },
    },
    plugins: { legend: { display: false }, tooltip: { enabled: false }, frame },
  };
}

function ChartCanvas({ left, top, width, height, make }: { left: number; top: number; width: number; height: number; make: () => any }) {
  const ref = useRef<HTMLCanvasElement>(null);
  useEffect(() => {
    if (!ref.current) return;
    const chart = new Chart(ref.current, make());
    return () => chart.destroy();
  }, []);
  return <canvas ref={ref} width={width} height={height} style={{ position: "absolute", left, top, width, height }} />;
}

// plot-area geometry of the left stack
const L_LEFT = 432;
const L_RIGHT = 2050;
const L_TOPS = [127, 611, 1095, 1580, 2064];
const L_CANVAS_W = 2120;

const leftPanels = [
  { dx: dxA, dy: dyA, unit: A_UNIT, min: -2e-4, max: 6e-4, major: aMajor, minor: aMinor, labels: aLabels },
  { dx: dxB, dy: dyB, unit: BCD_UNIT, min: -5e-3, max: 5e-3, major: bMajor, minor: bMinor, labels: bLabels },
  { dx: dxC, dy: dyC, unit: BCD_UNIT, min: -1.5e-2, max: 1.5e-2, major: cMajor, minor: cMinor, labels: cLabels },
  { dx: dxD, dy: dyD, unit: BCD_UNIT, min: -2.5e-2, max: 2.5e-2, major: dMajor, minor: dMinor, labels: dLabels },
];

const abs = (l: number, t: number, extra: any = {}): any => ({ position: "absolute", left: l, top: t, whiteSpace: "nowrap", ...extra });

export default function App() {
  useEffect(() => {
    document.body.style.margin = "0";
  }, []);

  return (
    <div style={{ position: "absolute", left: 0, top: 0, width: 3590, height: 2246, background: "#fff", overflow: "hidden", fontFamily: SERIF, color: "#000" }}>
      {leftPanels.map((p, i) => {
        const top = L_TOPS[i];
        const bottom = L_TOPS[i + 1];
        const last = i === leftPanels.length - 1;
        const padTop = 70;
        const padBottom = last ? 2246 - bottom : 70;
        const h = bottom - top + padTop + padBottom;
        return (
          <ChartCanvas
            key={i}
            left={0}
            top={top - padTop}
            width={L_CANVAS_W}
            height={h}
            make={() => ({
              type: "line",
              data: {
                datasets: [
                  { data: pairs(p.dx, p.unit), borderColor: GREEN, borderWidth: 5, order: 1 },
                  { data: pairs(p.dy, p.unit), borderColor: ORANGE, borderWidth: 5, order: 0 },
                ],
              },
              options: baseOptions(
                { left: L_LEFT, right: L_CANVAS_W - L_RIGHT, top: padTop, bottom: padBottom },
                800, 900, p.min, p.max,
                {
                  xMajor: tMajor, xMinor: tMinor, xLabels: last ? tLabels : undefined,
                  yMajor: p.major, yMinor: p.minor, yLabels: p.labels,
                  family: SERIF, size: 72, supSize: 47, xSize: 72,
                  majorLen: 30, minorLen: 15, lineWidth: 5, yGap: 38, xGap: 68,
                }
              ),
              plugins: [framePlugin],
            })}
          />
        );
      })}

      <ChartCanvas
        left={2100}
        top={0}
        width={1490}
        height={2246}
        make={() => ({
          type: "line",
          data: {
            datasets: [
              { data: pairs(wear0, E_UNIT), borderColor: E_COLORS[0], borderWidth: 4 },
              { data: pairs(wear13, E_UNIT), borderColor: E_COLORS[1], borderWidth: 4 },
              { data: pairs(wear25, E_UNIT), borderColor: E_COLORS[2], borderWidth: 4 },
              { data: pairs(wear40, E_UNIT), borderColor: E_COLORS[3], borderWidth: 4 },
            ],
          },
          options: baseOptions(
            { left: 382, right: 29, top: 127, bottom: 182 },
            0, 8.77, 0, 3e-10,
            {
              xMajor: eXMajor, xMinor: eXMinor, xLabels: eXLabels,
              yMajor: eYMajor, yMinor: eYMinor, yLabels: eYLabels,
              family: WIDE, size: 56, supSize: 38, xSize: 62,
              majorLen: 32, minorLen: 18, lineWidth: 4, yGap: 35, xGap: 64,
            }
          ),
          plugins: [framePlugin],
        })}
      />

      {/* top legend of the left stack */}
      <div style={abs(623, 56, { width: 202, height: 5, background: GREEN })} />
      <div style={abs(849, 58, { fontSize: 84, lineHeight: 1, transform: "translateY(-50%)" })}>
        δ<i>x</i> / <i>D</i>
      </div>
      <div style={abs(1088, 56, { width: 206, height: 5, background: ORANGE })} />
      <div style={abs(1310, 58, { fontSize: 84, lineHeight: 1, transform: "translateY(-50%)" })}>
        δ<i>y</i> / <i>D</i>
      </div>

      {/* panel letters */}
      {["(a)", "(b)", "(c)", "(d)"].map((s, i) => (
        <div key={s} style={abs(80, L_TOPS[i] + 120, { fontSize: 90, lineHeight: 1, color: "#0000ff", transform: "translate(-50%, -50%)" })}>
          {s}
        </div>
      ))}
      <div style={abs(2447, 228, { fontSize: 68, lineHeight: 1, color: "#0000ff", fontFamily: WIDE, fontWeight: "bold", transform: "translate(-100%, -50%)" })}>
        (e)
      </div>

      {/* axis titles */}
      <div style={abs(73, 978, { fontSize: 90, lineHeight: 1, transform: "translate(-50%, -50%) rotate(-90deg)" })}>
        <i>δ</i> / <i>D</i>
      </div>
      <div style={abs(1241, 2200, { fontSize: 86, lineHeight: 1, transform: "translate(-50%, -50%)" })}>
        <i>t</i> (s)
      </div>
      <div style={abs(3022, 2186, { fontSize: 82, lineHeight: 1, transform: "translate(-50%, -50%)" })}>
        <i>t</i> (s)
      </div>
      <div style={abs(2162, 1090, { fontSize: 80, lineHeight: 1, transform: "translate(-50%, -50%) rotate(-90deg)" })}>
        <i>wear loss</i> (m<sup style={{ fontSize: 50 }}>3</sup>)
      </div>

      {/* legend of panel (e) */}
      {eSeries.map((s, i) => (
        <div key={s}>
          <div style={abs(2647, eLegendY[i] - 2, { width: 204, height: 4, background: E_COLORS[i] })} />
          <div style={abs(2875, eLegendY[i], { fontSize: 68, lineHeight: 1, fontFamily: WIDE, transform: "translateY(-50%)" })}>
            {s}
          </div>
        </div>
      ))}
    </div>
  );
}
